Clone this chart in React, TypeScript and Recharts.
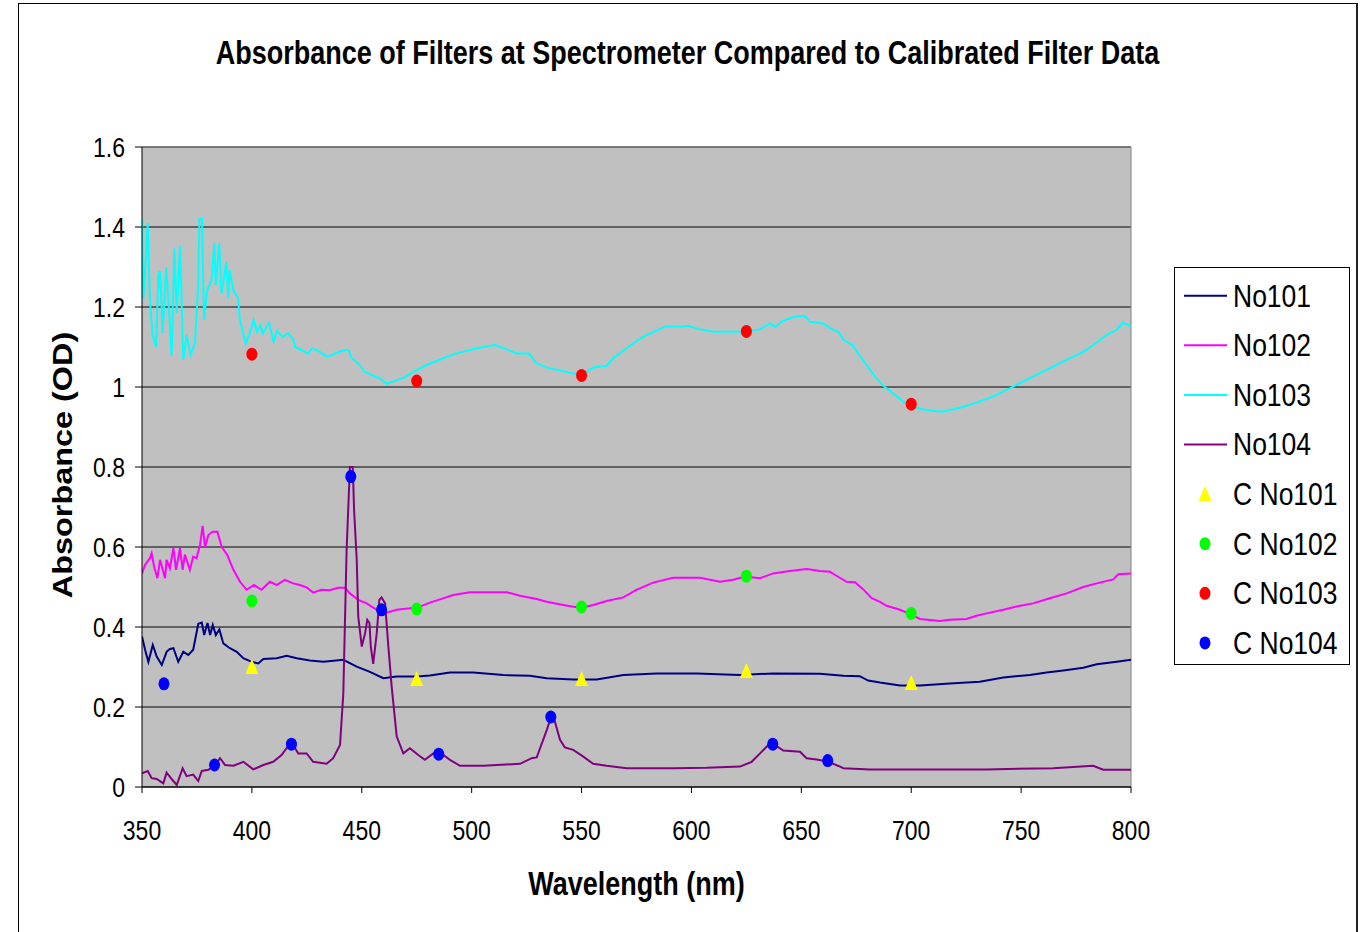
import {
  ComposedChart,
  Line,
  Scatter,
  XAxis,
  YAxis,
  CartesianGrid,
  ReferenceLine,
  Legend,
  Label,
} from "recharts";

const FONT = '"Liberation Sans", Arial, Helvetica, sans-serif';
// the original picture is stretched vertically, text included
const STRETCH = 1.2;

const X_TICKS = [350, 400, 450, 500, 550, 600, 650, 700, 750, 800];
const Y_TICKS = [0, 0.2, 0.4, 0.6, 0.8, 1, 1.2, 1.4, 1.6];

// spectrometer traces: [wavelength nm, absorbance OD]
const NO101: [number, number][] = [
  [350, 0.376], [351.4, 0.343], [352.9, 0.313], [354.9, 0.355], [356.7, 0.326], [359, 0.305],
  [361.2, 0.338], [362.7, 0.345], [364.3, 0.347], [366.5, 0.313], [368.8, 0.338], [371.1, 0.33],
  [373.3, 0.343], [375.6, 0.408], [377.2, 0.411], [378.3, 0.38], [379.8, 0.41], [381, 0.38],
  [382.2, 0.405], [383.6, 0.38], [385.2, 0.394], [387, 0.359], [390, 0.347], [393.1, 0.338],
  [396.1, 0.322], [399.9, 0.313], [402.9, 0.309], [405.2, 0.32], [411.3, 0.322], [415.8, 0.328],
  [420.4, 0.322], [426.4, 0.316], [432.5, 0.313], [441.6, 0.318], [447.7, 0.301], [453.7, 0.288],
  [459.8, 0.272], [465.9, 0.276], [475, 0.276], [481, 0.279], [490.1, 0.286], [500.7, 0.286],
  [514.4, 0.28], [526.5, 0.278], [534.1, 0.272], [546.2, 0.269], [556.9, 0.269], [569, 0.28],
  [584.2, 0.284], [602.4, 0.284], [622, 0.28], [637.2, 0.284], [658.5, 0.283], [669.1, 0.278],
  [676.6, 0.277], [680.4, 0.266], [685.8, 0.261], [694.9, 0.254], [704, 0.254], [717.6, 0.259],
  [731.2, 0.263], [741.9, 0.274], [754, 0.28], [761.6, 0.286], [769.2, 0.291], [778.3, 0.298],
  [784.4, 0.307], [793.5, 0.313], [800, 0.318],
];

const NO102: [number, number][] = [
  [350, 0.534], [351.4, 0.555], [353.6, 0.572], [354.4, 0.584], [355.5, 0.551], [357, 0.522],
  [358.2, 0.568], [360.5, 0.522], [361.2, 0.568], [362.7, 0.547], [364.3, 0.597], [365.5, 0.543],
  [367.3, 0.597], [368.5, 0.543], [369.5, 0.581], [371.8, 0.543], [373.3, 0.576], [374.8, 0.572],
  [376.4, 0.605], [377.6, 0.653], [378.7, 0.6], [380.2, 0.63], [382.2, 0.638], [384.3, 0.638],
  [386.3, 0.6], [388.8, 0.58], [391.6, 0.543], [394.6, 0.513], [397.6, 0.493], [401, 0.505],
  [404.4, 0.493], [408.2, 0.513], [411.3, 0.505], [415, 0.518], [418.8, 0.509], [421.8, 0.505],
  [424.9, 0.499], [427.9, 0.486], [431.7, 0.493], [435.5, 0.492], [439.3, 0.498], [442.4, 0.498],
  [444.6, 0.484], [448.4, 0.468], [452.2, 0.459], [456.8, 0.443], [461.3, 0.436], [465.9, 0.443],
  [471.9, 0.447], [476.5, 0.451], [481, 0.461], [485.6, 0.469], [491.6, 0.48], [499.2, 0.487],
  [515.9, 0.487], [522, 0.478], [529.6, 0.47], [534.1, 0.463], [538.7, 0.458], [545.5, 0.451],
  [550, 0.448], [555.4, 0.455], [561.4, 0.465], [569, 0.474], [575, 0.493], [582.6, 0.511],
  [591.7, 0.523], [603.9, 0.523], [613, 0.513], [619, 0.518], [624.3, 0.526], [631.2, 0.522],
  [637.2, 0.534], [644.8, 0.54], [652.4, 0.545], [658.5, 0.54], [663, 0.538], [665.4, 0.53],
  [670.6, 0.513], [674.4, 0.512], [678.2, 0.494], [682, 0.472], [685.8, 0.463], [688.8, 0.453],
  [694.9, 0.443], [699.4, 0.433], [704, 0.42], [713.1, 0.415], [717.6, 0.418], [725.2, 0.42],
  [729.7, 0.428], [734.3, 0.434], [741.9, 0.443], [747.9, 0.451], [755.5, 0.459], [763.1, 0.472],
  [770.7, 0.484], [778.3, 0.5], [784.4, 0.509], [792, 0.519], [794.2, 0.532], [800, 0.534],
];

const NO103: [number, number][] = [
  [350, 1.42], [350.6, 1.22], [352.6, 1.41], [353.6, 1.22], [354.8, 1.13], [356.4, 1.1],
  [357.4, 1.28], [358.2, 1.29], [359.4, 1.135], [361, 1.3], [362, 1.22], [363.5, 1.078],
  [364.7, 1.347], [365.8, 1.185], [367.3, 1.353], [368.8, 1.068], [370.3, 1.13], [372.1, 1.08],
  [374.1, 1.109], [375.6, 1.259], [376.1, 1.42], [377.3, 1.42], [378.2, 1.168], [379.7, 1.243],
  [381.7, 1.268], [382.9, 1.359], [383.6, 1.255], [385.1, 1.359], [386.2, 1.234], [388.4, 1.314],
  [389.2, 1.222], [389.9, 1.293], [391.5, 1.243], [393.7, 1.222], [394.5, 1.168], [397.2, 1.109],
  [399, 1.134], [400.8, 1.168], [402.3, 1.138], [403.9, 1.155], [405, 1.134], [407.8, 1.161],
  [409.9, 1.113], [411.4, 1.14], [414.1, 1.125], [416.4, 1.134], [418.7, 1.12], [419.7, 1.1],
  [425.7, 1.084], [427.2, 1.096], [430.3, 1.09], [434, 1.076], [436.3, 1.08], [440.8, 1.09],
  [443.9, 1.093], [445.4, 1.072], [448.4, 1.059], [451.4, 1.038], [454.5, 1.03], [458.3, 1.022],
  [461.3, 1.008], [464.3, 1.014], [468.9, 1.022], [473.4, 1.038], [479.5, 1.055], [487.1, 1.072],
  [493.2, 1.084], [502.3, 1.097], [510.6, 1.105], [515.9, 1.094], [520.5, 1.084], [526, 1.084],
  [529.6, 1.059], [534.1, 1.049], [540.2, 1.041], [546.2, 1.034], [550, 1.03], [555.4, 1.049],
  [561.4, 1.053], [564.4, 1.072], [570.5, 1.097], [575, 1.115], [579.6, 1.13], [584.2, 1.141],
  [587.9, 1.151], [596.3, 1.151], [598.6, 1.153], [603.9, 1.144], [609.9, 1.138], [617.5, 1.138],
  [624.3, 1.138], [631.1, 1.144], [635.7, 1.159], [638, 1.15], [641.8, 1.166], [647.1, 1.176],
  [651.6, 1.178], [653.9, 1.163], [660, 1.159], [663, 1.147], [666.8, 1.138], [669.2, 1.118],
  [673.6, 1.103], [675.9, 1.083], [679.7, 1.055], [683.5, 1.026], [687.3, 1.003], [691.8, 0.984],
  [696.4, 0.963], [699.4, 0.953], [705.5, 0.944], [713.8, 0.938], [722.2, 0.948], [729.7, 0.961],
  [737.3, 0.976], [746.4, 1.001], [752.5, 1.018], [761.6, 1.043], [770.7, 1.068], [778.3, 1.088],
  [782.8, 1.105], [788.9, 1.13], [793.5, 1.143], [796.5, 1.161], [800, 1.151],
];

const NO104: [number, number][] = [
  [350, 0.034], [352.6, 0.04], [354.4, 0.022], [356.7, 0.02], [359.7, 0.009], [361.2, 0.036],
  [363.5, 0.02], [365.8, 0.005], [368.5, 0.047], [370.3, 0.027], [373.3, 0.031], [375.6, 0.015],
  [377.2, 0.04], [380.2, 0.043], [383.4, 0.055], [385.5, 0.072], [387.8, 0.055], [391.6, 0.053],
  [396.1, 0.063], [400.6, 0.044], [405.2, 0.055], [409.7, 0.063], [413.5, 0.08], [415.8, 0.097],
  [418.4, 0.109], [421.1, 0.084], [424.9, 0.084], [427.9, 0.063], [434, 0.058], [437, 0.072],
  [440.1, 0.105], [441.6, 0.234], [443.1, 0.593], [444.6, 0.8], [445.9, 0.8], [446.5, 0.693],
  [447.7, 0.568], [448.4, 0.426], [450, 0.351], [451.5, 0.384], [452.5, 0.418], [453.5, 0.41],
  [454.1, 0.351], [455.2, 0.308], [456.8, 0.384], [458, 0.468], [459, 0.474], [460.6, 0.459],
  [462.1, 0.351], [463.6, 0.251], [465.9, 0.126], [468.9, 0.084], [471.9, 0.097], [475.7, 0.08],
  [478.7, 0.068], [482.6, 0.084], [487.1, 0.08], [490.1, 0.068], [494.7, 0.053], [505.3, 0.053],
  [511.4, 0.055], [522, 0.058], [527.3, 0.072], [529.6, 0.074], [534.2, 0.143], [536.4, 0.18],
  [537.1, 0.178], [540.2, 0.118], [542.4, 0.099], [546.2, 0.093], [550.8, 0.076], [555.3, 0.058],
  [561.4, 0.053], [570.5, 0.047], [591.7, 0.047], [606.9, 0.048], [622.1, 0.051], [627.4, 0.063],
  [631.2, 0.084], [635, 0.105], [637.2, 0.108], [641.8, 0.091], [649.4, 0.088], [652.4, 0.072],
  [657, 0.069], [662.2, 0.063], [667.6, 0.051], [669.1, 0.047], [681.2, 0.044], [704, 0.044],
  [734.3, 0.044], [764.6, 0.047], [782.8, 0.053], [787.3, 0.043], [800, 0.043],
];

// calibrated filter data
const CAL_WL = [400, 475, 550, 625, 700];
const C_NO101 = [0.3, 0.27, 0.27, 0.29, 0.26];
const C_NO102 = [0.465, 0.445, 0.45, 0.527, 0.434];
const C_NO103 = [1.082, 1.015, 1.029, 1.139, 0.957];
const C_NO104_WL = [360, 383, 418, 445, 459, 485, 536, 637, 662];
const C_NO104 = [0.258, 0.055, 0.107, 0.776, 0.443, 0.082, 0.175, 0.107, 0.066];

const toPoints = (rows: [number, number][]) => rows.map(([wl, v]) => ({ wl, v }));
const zipPoints = (wls: number[], vals: number[]) => wls.map((wl, i) => ({ wl, v: vals[i] }));

const LINES = [
  { name: "No101", color: "#000080", data: toPoints(NO101) },
  { name: "No102", color: "#FF00FF", data: toPoints(NO102) },
  { name: "No103", color: "#00FFFF", data: toPoints(NO103) },
  { name: "No104", color: "#800080", data: toPoints(NO104) },
];

const MARKERS = [
  { name: "C No101", color: "#FFFF00", triangle: true, data: zipPoints(CAL_WL, C_NO101) },
  { name: "C No102", color: "#00FF00", triangle: false, data: zipPoints(CAL_WL, C_NO102) },
  { name: "C No103", color: "#FF0000", triangle: false, data: zipPoints(CAL_WL, C_NO103) },
  { name: "C No104", color: "#0000FF", triangle: false, data: zipPoints(C_NO104_WL, C_NO104) },
];

function Marker({ cx, cy, color, triangle }: { cx: number; cy: number; color: string; triangle: boolean }) {
  if (triangle) {
    return <polygon points={`${cx},${cy - 8} ${cx + 6.5},${cy + 7} ${cx - 6.5},${cy + 7}`} fill={color} />;
  }
  return <ellipse cx={cx} cy={cy} rx={5.5} ry={6.5} fill={color} />;
}

function StretchedText({ x, y, anchor, size, bold, rotate, children }: any) {
  const rot = rotate ? ` rotate(${rotate})` : "";
  return (
    <text
      transform={`translate(${x},${y}) scale(1,${STRETCH})${rot}`}
      textAnchor={anchor}
      dominantBaseline="central"
      fontFamily={FONT}
      fontSize={size}
      fontWeight={bold ? "bold" : "normal"}
      fill="#000"
    >
      {children}
    </text>
  );
}

function YTick({ x, y, payload }: any) {
  return (
    <StretchedText x={x} y={y} anchor="end" size={23}>
      {payload.value}
    </StretchedText>
  );
}

function XTick({ x, y, payload }: any) {
  return (
    <StretchedText x={x} y={y} anchor="middle" size={23}>
      {payload.value}
    </StretchedText>
  );
}

function LegendBox() {
  const rows = [...LINES.map((l) => ({ ...l, line: true, triangle: false })), ...MARKERS.map((m) => ({ ...m, line: false }))];
  return (
    <svg width={176} height={398} style={{ display: "block" }}>
      <rect x={0.5} y={0.5} width={175} height={397} fill="#fff" stroke="#000" />
      {rows.map((r, i) => {
        const cy = 28.7 + i * 49.6;
        return (
          <g key={r.name}>
            {r.line ? (
              <line x1={10} x2={53} y1={cy} y2={cy} stroke={r.color} strokeWidth={2} />
            ) : (
              <Marker cx={31} cy={cy} color={r.color} triangle={r.triangle} />
            )}
            <StretchedText x={59} y={cy} anchor="start" size={26.5}>
              {r.name}
            </StretchedText>
          </g>
        );
      })}
    </svg>
  );
}

export default function App() {
  return (
    <div style={{ position: "absolute", left: 0, top: 0, width: 1364, height: 932, overflow: "hidden", background: "#fff" }}>
      <div
        style={{
          position: "absolute",
          left: 18,
          top: 3,
          width: 1340,
          height: 1000,
          boxSizing: "border-box",
          borderLeft: "1px solid #000",
          borderTop: "1px solid #000",
          borderRight: "2px solid #222",
        }}
      />
      <div
        style={{
          position: "absolute",
          left: 112,
          width: 1151,
          top: 38,
          height: 30,
          lineHeight: "30px",
          textAlign: "center",
          whiteSpace: "nowrap",
          fontFamily: FONT,
          fontWeight: "bold",
          fontSize: 27,
          transform: `scaleY(${STRETCH})`,
        }}
      >
        Absorbance of Filters at Spectrometer Compared to Calibrated Filter Data
      </div>
      <div style={{ position: "absolute", left: 0, top: 0 }}>
        <ComposedChart width={1364} height={932} margin={{ top: 147, right: 233, bottom: 85, left: 62 }}>
          <CartesianGrid vertical={false} stroke="#000" fill="#C0C0C0" fillOpacity={1} />
          <XAxis
            type="number"
            dataKey="wl"
            domain={[350, 800]}
            ticks={X_TICKS}
            interval={0}
            height={60}
            tickSize={6}
            tickMargin={37}
            axisLine={{ stroke: "#000" }}
            tickLine={{ stroke: "#000" }}
            tick={<XTick />}
            allowDataOverflow
          >
            <Label
              content={({ viewBox }: any) => (
                <StretchedText x={viewBox.x + viewBox.width / 2} y={viewBox.y + 97} anchor="middle" size={27} bold>
                  Wavelength (nm)
                </StretchedText>
              )}
            />
          </XAxis>
          <YAxis
            type="number"
            domain={[0, 1.6]}
            ticks={Y_TICKS}
            interval={0}
            width={80}
            tickSize={7}
            tickMargin={10}
            axisLine={{ stroke: "#000" }}
            tickLine={{ stroke: "#000" }}
            tick={<YTick />}
            allowDataOverflow
          >
            <Label
              content={({ viewBox }: any) => (
                <StretchedText x={viewBox.x} y={viewBox.y + viewBox.height / 2 - 2} anchor="middle" size={27} bold rotate={-90}>
                  Absorbance (OD)
                </StretchedText>
              )}
            />
          </YAxis>
          <ReferenceLine y={1.6} stroke="#808080" />
          <ReferenceLine x={800} stroke="#808080" />
          {LINES.map((l) => (
            <Line
              key={l.name}
              name={l.name}
              data={l.data}
              dataKey="v"
              type="linear"
              stroke={l.color}
              strokeWidth={2}
              dot={false}
              activeDot={false}
              isAnimationActive={false}
            />
          ))}
          {MARKERS.map((m) => (
            <Scatter
              key={m.name}
              name={m.name}
              data={m.data}
              dataKey="v"
              fill={m.color}
              shape={(p: any) => <Marker cx={p.cx} cy={p.cy} color={m.color} triangle={m.triangle} />}
              isAnimationActive={false}
            />
          ))}
          <Legend
            layout="vertical"
            align="center"
            verticalAlign="middle"
            width={176}
            height={398}
            wrapperStyle={{ left: 1174, top: 267, width: 176, height: 398 }}
            content={() => <LegendBox />}
          />
        </ComposedChart>
      </div>
    </div>
  );
}
